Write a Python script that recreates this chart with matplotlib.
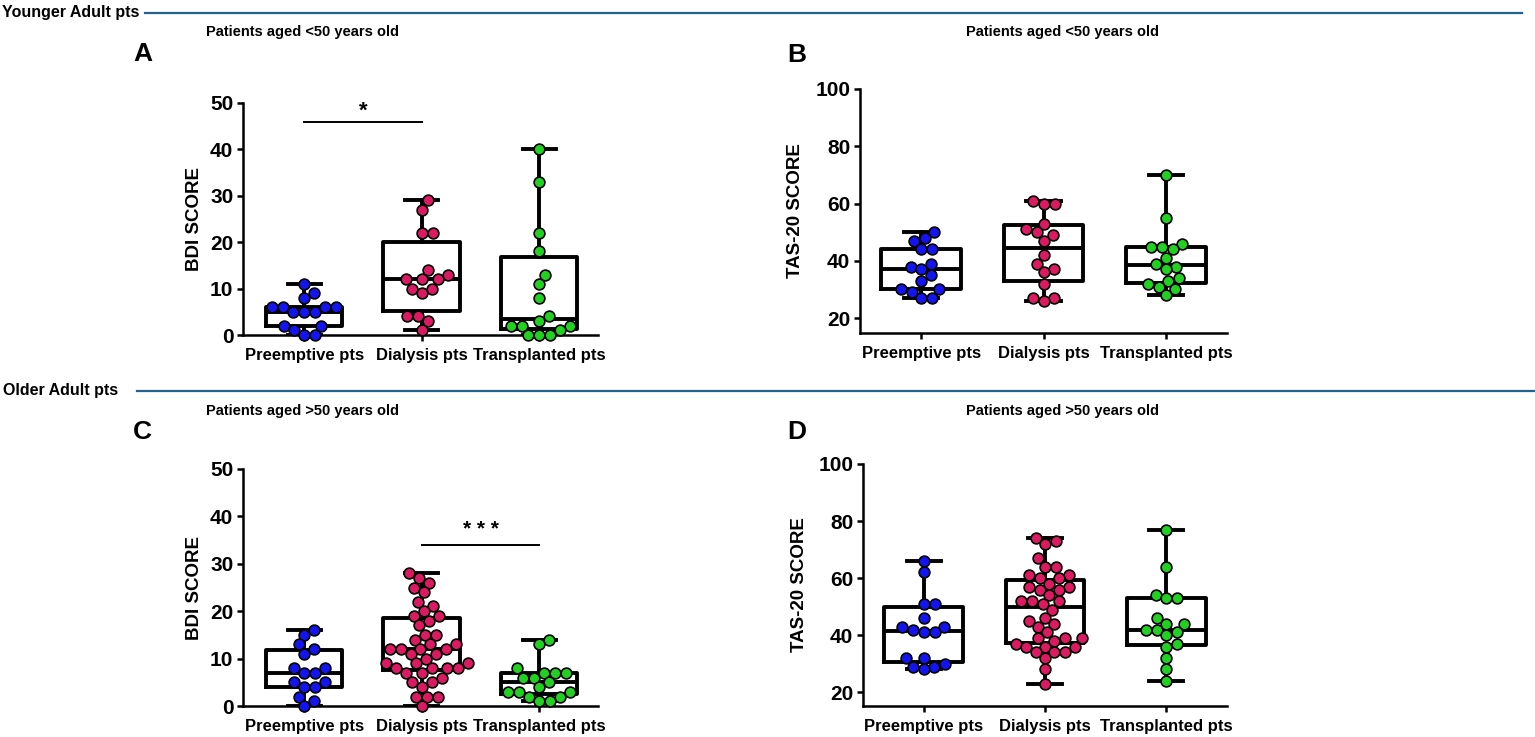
import numpy as np
import matplotlib
matplotlib.use("Agg")
import matplotlib.pyplot as plt
from matplotlib import font_manager
from matplotlib.lines import Line2D

# ---- data ----
groups = ["Preemptive pts", "Dialysis pts", "Transplanted pts"]
colors = ["#1414f0", "#dc1a62", "#22d022"]

bdi_young_pre = [11, 9, 8, 6, 6, 6, 6, 5, 5, 5, 2, 2, 1, 0, 0]
bdi_young_dia = [29, 27, 22, 22, 14, 13, 12, 12, 12, 10, 10, 9, 4, 4, 3, 1]
bdi_young_tra = [40, 33, 22, 18, 13, 11, 8, 4, 3, 2, 2, 2, 1, 0, 0, 0]

tas_young_pre = [50, 48, 47, 44, 44, 39, 38, 37, 35, 33, 30, 30, 29, 27, 27]
tas_young_dia = [61, 60, 60, 53, 51, 50, 49, 47, 42, 39, 37, 36, 32, 27, 27, 26]
tas_young_tra = [70, 55, 46, 45, 45, 44, 41, 39, 38, 37, 34, 33, 32, 31, 30, 28]

bdi_old_pre = [16, 15, 13, 12, 11, 8, 8, 7, 7, 5, 5, 4, 4, 2, 1, 0]
bdi_old_dia = [28, 27, 26, 25, 24, 22, 21, 20, 19, 19, 18, 17, 15, 15, 14, 13, 13,
               12, 12, 12, 12, 11, 11, 10, 9, 9, 9, 8, 8, 8, 8, 7, 7, 6, 5, 5, 4,
               2, 2, 2, 0]
bdi_old_tra = [14, 13, 8, 7, 7, 7, 6, 6, 5, 4, 3, 3, 3, 2, 2, 1, 1]

tas_old_pre = [66, 62, 51, 51, 46, 43, 43, 42, 41, 41, 32, 32, 30, 29, 29, 28]
tas_old_dia = [74, 73, 72, 67, 64, 64, 61, 61, 60, 60, 58, 57, 57, 56, 56, 54, 52,
               52, 52, 51, 49, 46, 45, 44, 43, 41, 39, 39, 39, 38, 37, 36, 36, 36,
               34, 34, 34, 32, 28, 23]
tas_old_tra = [77, 64, 54, 53, 53, 46, 44, 44, 42, 42, 41, 40, 37, 36, 32, 28, 24]

names = {f.name for f in font_manager.fontManager.ttflist}
NARROW = "Liberation Sans Narrow" in names
base = "Liberation Sans"
head = "Liberation Sans Narrow" if NARROW else base
head_size = 13.5 if NARROW else 11.5
title_size = 12.5 if NARROW else 10.5

plt.rcParams["font.family"] = [base, "DejaVu Sans"]
plt.rcParams["font.weight"] = "bold"

W, H = 1535, 737
fig = plt.figure(figsize=(W / 100, H / 100), dpi=100)


def fpos(left, top, right, bottom):
    return [left / W, 1 - bottom / H, (right - left) / W, (bottom - top) / H]


def swarm(ax, values, pos, diam=11.0):
    # simple beeswarm, done in pixel space
    pts = ax.transData.transform(np.column_stack([np.full(len(values), pos),
                                                  values]))
    ypx = pts[:, 1]
    x0 = pts[0, 0]
    xs = np.zeros(len(values))
    placed = []
    for i in np.argsort(ypx, kind="stable"):
        y = ypx[i]
        near = [(px, py) for px, py in placed if abs(py - y) < diam]
        cands = [0.0]
        for px, py in near:
            dx = np.sqrt(diam ** 2 - (py - y) ** 2)
            cands += [px + dx, px - dx]
        cands.sort(key=lambda c: (round(abs(c), 3), -c))
        for c in cands:
            if all((c - px) ** 2 + (y - py) ** 2 >= diam ** 2 - 1e-6 for px, py in near):
                xs[i] = c
                break
        placed.append((xs[i], y))
    back = ax.transData.inverted().transform(np.column_stack([x0 + xs, ypx]))
    return back[:, 0]


def panel(rect, series, ylim, yticks, ylabel, xlim, label_x):
    ax = fig.add_axes(rect)
    ax.set_xlim(*xlim)
    ax.set_ylim(*ylim)
    for s in ["top", "right"]:
        ax.spines[s].set_visible(False)
    for s in ["left", "bottom"]:
        ax.spines[s].set_linewidth(1.8)
    stats = []
    for v in series:
        q1, med, q3 = np.percentile(v, [25, 50, 75], method="weibull")
        stats.append(dict(med=med, q1=q1, q3=q3, whislo=min(v), whishi=max(v)))
    lp = dict(color="black", linewidth=2.8)
    ax.bxp(stats, positions=[0, 1, 2], widths=0.65, capwidths=0.28,
           showfliers=False, boxprops=lp, whiskerprops=lp, capprops=lp,
           medianprops=lp)
    for i, v in enumerate(series):
        xs = swarm(ax, np.array(v, float), i)
        ax.scatter(xs, v, s=60, color=colors[i], edgecolor="black",
                   linewidth=1.2, zorder=5, clip_on=False)
    ax.set_xticks([0, 1, 2])
    ax.set_xticklabels(groups, fontsize=12, fontweight="bold")
    ax.set_yticks(yticks)
    ax.set_yticklabels([str(t) for t in yticks], fontsize=15, fontweight="bold")
    ax.tick_params(width=1.8, length=4, pad=3)
    ax.tick_params(axis="x", pad=5)
    ax.set_ylabel(ylabel, fontsize=13.5, fontweight="bold")
    ax.yaxis.set_label_coords(label_x, 0.5)
    return ax


axA = panel(fpos(243, 102.7, 598, 335),
            [bdi_young_pre, bdi_young_dia, bdi_young_tra],
            (0, 50), [0, 10, 20, 30, 40, 50], "BDI SCORE", (-0.52, 2.5), -0.113)
axB = panel(fpos(860, 89, 1227, 333),
            [tas_young_pre, tas_young_dia, tas_young_tra],
            (14.8, 100), [20, 40, 60, 80, 100], "TAS-20 SCORE", (-0.5, 2.5), -0.153)
axC = panel(fpos(243, 469, 598, 706),
            [bdi_old_pre, bdi_old_dia, bdi_old_tra],
            (0, 50), [0, 10, 20, 30, 40, 50], "BDI SCORE", (-0.52, 2.5), -0.113)
axD = panel(fpos(863, 464, 1227, 706),
            [tas_old_pre, tas_old_dia, tas_old_tra],
            (15.2, 100), [20, 40, 60, 80, 100], "TAS-20 SCORE", (-0.5, 2.5), -0.151)

# significance bars
axA.plot([0, 1], [45.9, 45.9], color="black", lw=1.4, clip_on=False)
axA.text(0.5, 48.2, "*", ha="center", va="center", fontsize=16, fontweight="bold")
axC.plot([1, 2], [34, 34], color="black", lw=1.4, clip_on=False)
axC.text(1.5, 37.3, "* * *", ha="center", va="center", fontsize=15, fontweight="bold")

# headers, separators, titles, panel letters
line_col = "#23628e"
fig.text(2 / W, 1 - 12 / H, "Younger Adult pts", ha="left", va="center",
         fontsize=head_size, fontweight="bold", family=[head, "DejaVu Sans"])
fig.add_artist(Line2D([145 / W, 1522 / W], [1 - 12.7 / H] * 2, color=line_col, lw=1.6))
fig.text(3 / W, 1 - 390 / H, "Older Adult pts", ha="left", va="center",
         fontsize=head_size, fontweight="bold", family=[head, "DejaVu Sans"])
fig.add_artist(Line2D([137 / W, 1 - 0.5 / W], [1 - 391 / H] * 2, color=line_col, lw=1.6))

for cx, cy, t in [(302, 32, "Patients aged <50 years old"),
                  (1063, 32, "Patients aged <50 years old"),
                  (302, 411, "Patients aged >50 years old"),
                  (1063, 411, "Patients aged >50 years old")]:
    fig.text(cx / W, 1 - cy / H, t, ha="center", va="center", fontsize=title_size,
             fontweight="bold", family=[head, "DejaVu Sans"])

for cx, cy, t in [(143, 54, "A"), (797, 55, "B"), (142, 432, "C"), (797, 432, "D")]:
    fig.text(cx / W, 1 - cy / H, t, ha="center", va="center", fontsize=19,
             fontweight="bold", family=[head, "DejaVu Sans"])

fig.savefig("out.png", dpi=100)
